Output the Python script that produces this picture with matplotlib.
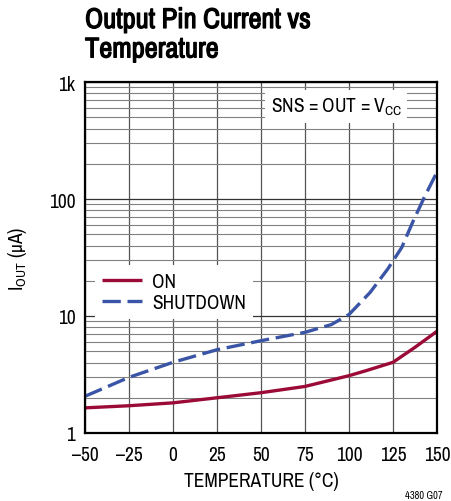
import numpy as np
import matplotlib
matplotlib.use('Agg')
from matplotlib import pyplot as plt
from matplotlib import font_manager
from matplotlib import patheffects as pe
from matplotlib.ticker import LogLocator, NullFormatter

fl = font_manager.fontManager.ttflist
narrow = sorted([f for f in fl if 'Narrow' in f.name or 'Condensed' in f.name],
                key=lambda f: f.name)
if narrow:
    fam = [narrow[0].name, 'DejaVu Sans']
    title_size = 20.5
else:
    fam = ['Liberation Sans', 'DejaVu Sans']
    title_size = 17
plt.rcParams['font.family'] = fam

# ON curve
temp_on = [-50, -25, 0, 25, 50, 75, 100, 110, 125, 137.5, 150]
i_on = [1.64, 1.71, 1.81, 2.0, 2.21, 2.5, 3.09, 3.42, 4.02, 5.4, 7.4]

# SHUTDOWN curve
temp_sd = [-50, -25, 0, 25, 50, 75, 90, 100, 112, 122, 130, 136.5, 143, 150]
i_sd = [2.06, 2.99, 4.02, 5.15, 6.15, 7.25, 8.45, 10.3, 15.9, 25.2, 38.6, 65, 105, 170]

xticks = [-50, -25, 0, 25, 50, 75, 100, 125, 150]
xlabels = ['\u201350', '\u201325', '0', '25', '50', '75', '100', '125', '150']
yticks = [1, 10, 100, 1000]
ylabels = ['1', '10', '100', '1k']

fig = plt.figure(figsize=(4.51, 5.02), dpi=100)
ax = fig.add_axes([85/451, 1-434/502, 352/451, 351/502])

ax.set_yscale('log')
ax.set_xlim(-50, 150)
ax.set_ylim(1, 1000)

ax.set_xticks(xticks)
ax.set_xticklabels(xlabels)
ax.set_yticks(yticks)
ax.set_yticklabels(ylabels)
ax.yaxis.set_minor_locator(LogLocator(base=10, subs=np.arange(2, 10)))
ax.yaxis.set_minor_formatter(NullFormatter())
ax.tick_params(which='both', length=0, labelsize=14)
ax.tick_params(axis='x', pad=9)
ax.tick_params(axis='y', pad=7)

ax.grid(True, which='major', axis='x', color='#555555', lw=0.9)
ax.grid(True, which='major', axis='y', color='#333333', lw=0.9)
ax.grid(True, which='minor', axis='y', color='#808080', lw=0.8)
ax.set_axisbelow(True)
for s in ax.spines.values():
    s.set_linewidth(1.6)
    s.set_color('black')

l1, = ax.plot(temp_on, i_on, color='#9c0b38', lw=2.4, solid_capstyle='butt')
l2, = ax.plot(temp_sd, i_sd, color='#3b55a6', lw=2.4, dashes=(5.5, 2.0))

leg = ax.legend([l1, l2], ['ON', 'SHUTDOWN'], loc='upper left',
                bbox_to_anchor=(0.0, 0.505), frameon=True, fancybox=False,
                edgecolor='none', facecolor='white', framealpha=1,
                fontsize=14, handlelength=2.1, handletextpad=0.5,
                labelspacing=0.1, borderpad=0.35)

ax.text(0.9, 0.93, 'SNS = OUT = V$_{\\mathregular{CC}}$', transform=ax.transAxes,
        ha='right', va='center', fontsize=14,
        bbox=dict(facecolor='white', edgecolor='none', pad=4))

ax.set_xlabel('TEMPERATURE (\u00b0C)', fontsize=14, labelpad=5)
ax.set_ylabel('I$_{\\mathregular{OUT}}$ (\u03bcA)', fontsize=14, labelpad=14)

# title: narrow font has no bold face here, so thicken it with a thin stroke
fig.text(85/451, 1-9/502, 'Output Pin Current vs\nTemperature',
         fontsize=title_size, fontweight='bold', ha='left', va='top',
         linespacing=1.22,
         path_effects=[pe.withStroke(linewidth=0.9, foreground='black')])
fig.text(443/451, 1-496/502, '4380 G07', fontsize=7.5, ha='right', va='center')

fig.savefig('out.png', dpi=100)
